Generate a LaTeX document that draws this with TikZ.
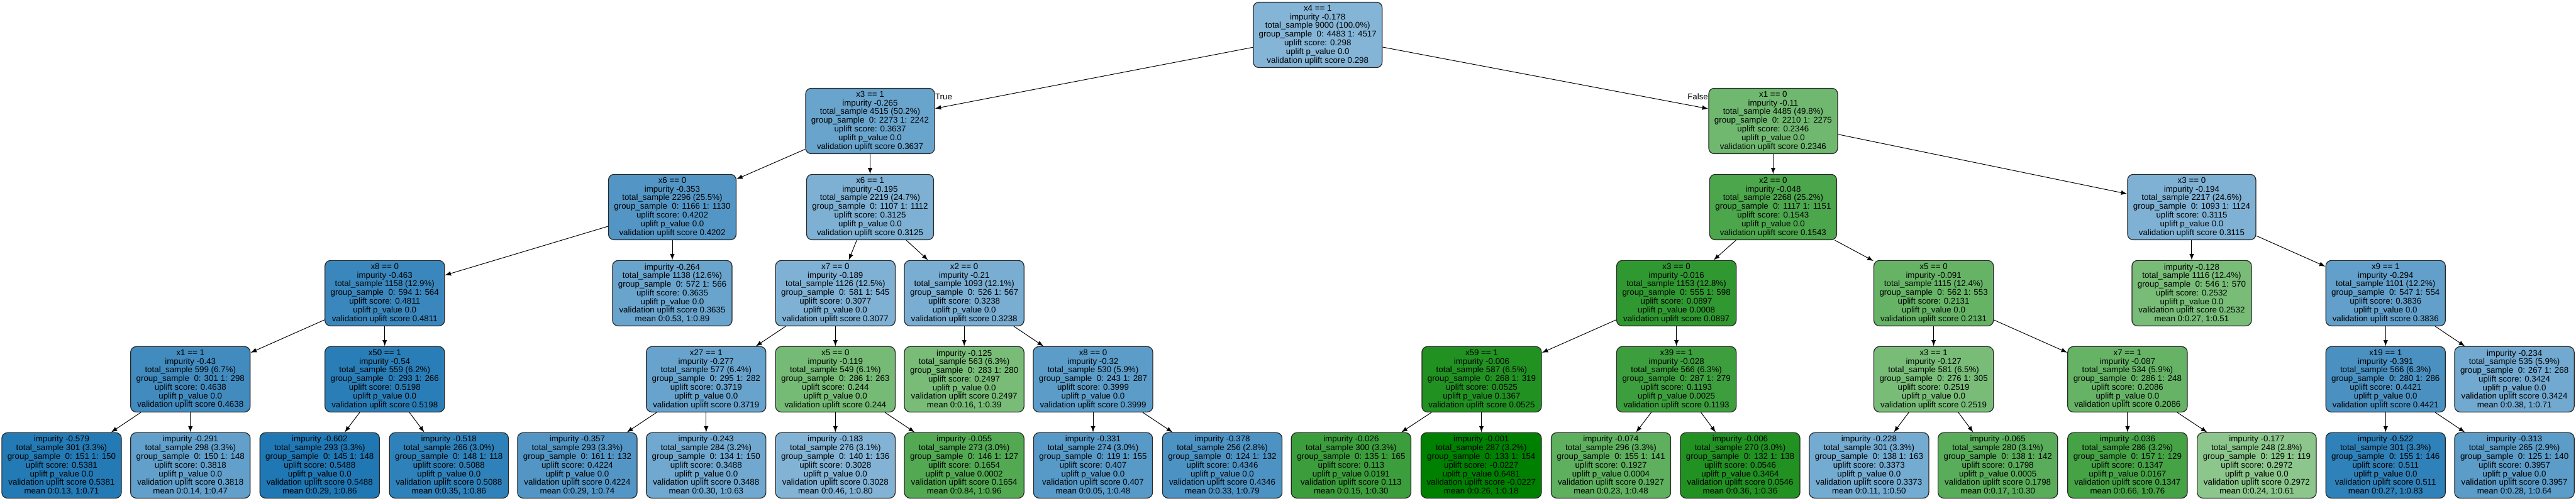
\documentclass[tikz,border=0pt]{standalone}
\usepackage{fontspec}
\setmainfont{Liberation Sans}
\definecolor{upblue}{HTML}{1F77B4}
\definecolor{upgreen}{HTML}{008000}

\begin{document}
\begin{tikzpicture}[
	tnode/.style={draw=black!85, line width=0.5pt, fill=#1, rounded corners=0.13cm, align=center,
		inner xsep=0.13cm, inner ysep=0.04cm, minimum width=2.69cm, minimum height=1.51cm,
		font=\fontsize{5.5pt}{5.69pt}\selectfont},
	elabel/.style={inner sep=0pt, yshift=0.2cm, font=\fontsize{5.5pt}{5.69pt}\selectfont}]
	\useasboundingbox (0,0) rectangle (59.39,-11.55);

	% depth 0 and 1
	\node[tnode=upblue!55] (root) at (30.38,-0.805) {x4 == 1\\impurity -0.178\\total\_sample 9000 (100.0\%)\\group\_sample\ \ 0: 4483 1: 4517\\uplift score: 0.298\\uplift p\_value 0.0\\validation uplift score 0.298};
	\node[tnode=upblue!67] (L) at (20.06,-2.791) {x3 == 1\\impurity -0.265\\total\_sample 4515 (50.2\%)\\group\_sample\ \ 0: 2273 1: 2242\\uplift score: 0.3637\\uplift p\_value 0.0\\validation uplift score 0.3637};
	\node[tnode=upgreen!56] (R) at (40.88,-2.791) {x1 == 0\\impurity -0.11\\total\_sample 4485 (49.8\%)\\group\_sample\ \ 0: 2210 1: 2275\\uplift score: 0.2346\\uplift p\_value 0.0\\validation uplift score 0.2346};

	% depth 2
	\node[tnode=upblue!77] (LL) at (15.50,-4.777) {x6 == 0\\impurity -0.353\\total\_sample 2296 (25.5\%)\\group\_sample\ \ 0: 1166 1: 1130\\uplift score: 0.4202\\uplift p\_value 0.0\\validation uplift score 0.4202};
	\node[tnode=upblue!58] (LR) at (20.06,-4.777) {x6 == 1\\impurity -0.195\\total\_sample 2219 (24.7\%)\\group\_sample\ \ 0: 1107 1: 1112\\uplift score: 0.3125\\uplift p\_value 0.0\\validation uplift score 0.3125};
	\node[tnode=upgreen!70] (RL) at (40.88,-4.777) {x2 == 0\\impurity -0.048\\total\_sample 2268 (25.2\%)\\group\_sample\ \ 0: 1117 1: 1151\\uplift score: 0.1543\\uplift p\_value 0.0\\validation uplift score 0.1543};
	\node[tnode=upblue!57] (RR) at (50.53,-4.777) {x3 == 0\\impurity -0.194\\total\_sample 2217 (24.6\%)\\group\_sample\ \ 0: 1093 1: 1124\\uplift score: 0.3115\\uplift p\_value 0.0\\validation uplift score 0.3115};

	% depth 3
	\node[tnode=upblue!88] (LLL) at (8.87,-6.763) {x8 == 0\\impurity -0.463\\total\_sample 1158 (12.9\%)\\group\_sample\ \ 0: 594 1: 564\\uplift score: 0.4811\\uplift p\_value 0.0\\validation uplift score 0.4811};
	\node[tnode=upblue!67] (LLR) at (15.50,-6.763) {impurity -0.264\\total\_sample 1138 (12.6\%)\\group\_sample\ \ 0: 572 1: 566\\uplift score: 0.3635\\uplift p\_value 0.0\\validation uplift score 0.3635\\mean 0:0.53, 1:0.89};
	\node[tnode=upblue!57] (LRL) at (19.26,-6.763) {x7 == 0\\impurity -0.189\\total\_sample 1126 (12.5\%)\\group\_sample\ \ 0: 581 1: 545\\uplift score: 0.3077\\uplift p\_value 0.0\\validation uplift score 0.3077};
	\node[tnode=upblue!60] (LRR) at (22.23,-6.763) {x2 == 0\\impurity -0.21\\total\_sample 1093 (12.1\%)\\group\_sample\ \ 0: 526 1: 567\\uplift score: 0.3238\\uplift p\_value 0.0\\validation uplift score 0.3238};
	\node[tnode=upgreen!81] (RLL) at (38.65,-6.763) {x3 == 0\\impurity -0.016\\total\_sample 1153 (12.8\%)\\group\_sample\ \ 0: 555 1: 598\\uplift score: 0.0897\\uplift p\_value 0.0008\\validation uplift score 0.0897};
	\node[tnode=upgreen!60] (RLR) at (44.58,-6.763) {x5 == 0\\impurity -0.091\\total\_sample 1115 (12.4\%)\\group\_sample\ \ 0: 562 1: 553\\uplift score: 0.2131\\uplift p\_value 0.0\\validation uplift score 0.2131};
	\node[tnode=upgreen!53] (RRL) at (50.53,-6.763) {impurity -0.128\\total\_sample 1116 (12.4\%)\\group\_sample\ \ 0: 546 1: 570\\uplift score: 0.2532\\uplift p\_value 0.0\\validation uplift score 0.2532\\mean 0:0.27, 1:0.51};
	\node[tnode=upblue!70] (RRR) at (55.00,-6.763) {x9 == 1\\impurity -0.294\\total\_sample 1101 (12.2\%)\\group\_sample\ \ 0: 547 1: 554\\uplift score: 0.3836\\uplift p\_value 0.0\\validation uplift score 0.3836};

	% depth 4
	\node[tnode=upblue!85] (LLLL) at (4.39,-8.749) {x1 == 1\\impurity -0.43\\total\_sample 599 (6.7\%)\\group\_sample\ \ 0: 301 1: 298\\uplift score: 0.4638\\uplift p\_value 0.0\\validation uplift score 0.4638};
	\node[tnode=upblue!95] (LLLR) at (8.87,-8.749) {x50 == 1\\impurity -0.54\\total\_sample 559 (6.2\%)\\group\_sample\ \ 0: 293 1: 266\\uplift score: 0.5198\\uplift p\_value 0.0\\validation uplift score 0.5198};
	\node[tnode=upblue!68] (LRLL) at (16.28,-8.749) {x27 == 1\\impurity -0.277\\total\_sample 577 (6.4\%)\\group\_sample\ \ 0: 295 1: 282\\uplift score: 0.3719\\uplift p\_value 0.0\\validation uplift score 0.3719};
	\node[tnode=upgreen!54] (LRLR) at (19.26,-8.749) {x5 == 0\\impurity -0.119\\total\_sample 549 (6.1\%)\\group\_sample\ \ 0: 286 1: 263\\uplift score: 0.244\\uplift p\_value 0.0\\validation uplift score 0.244};
	\node[tnode=upgreen!53] (LRRL) at (22.23,-8.749) {impurity -0.125\\total\_sample 563 (6.3\%)\\group\_sample\ \ 0: 283 1: 280\\uplift score: 0.2497\\uplift p\_value 0.0\\validation uplift score 0.2497\\mean 0:0.16, 1:0.39};
	\node[tnode=upblue!73] (LRRR) at (25.20,-8.749) {x8 == 0\\impurity -0.32\\total\_sample 530 (5.9\%)\\group\_sample\ \ 0: 243 1: 287\\uplift score: 0.3999\\uplift p\_value 0.0\\validation uplift score 0.3999};
	\node[tnode=upgreen!87] (RLLL) at (34.16,-8.749) {x59 == 1\\impurity -0.006\\total\_sample 587 (6.5\%)\\group\_sample\ \ 0: 268 1: 319\\uplift score: 0.0525\\uplift p\_value 0.1367\\validation uplift score 0.0525};
	\node[tnode=upgreen!76] (RLLR) at (38.65,-8.749) {x39 == 1\\impurity -0.028\\total\_sample 566 (6.3\%)\\group\_sample\ \ 0: 287 1: 279\\uplift score: 0.1193\\uplift p\_value 0.0025\\validation uplift score 0.1193};
	\node[tnode=upgreen!53] (RLRL) at (44.58,-8.749) {x3 == 1\\impurity -0.127\\total\_sample 581 (6.5\%)\\group\_sample\ \ 0: 276 1: 305\\uplift score: 0.2519\\uplift p\_value 0.0\\validation uplift score 0.2519};
	\node[tnode=upgreen!60] (RLRR) at (49.05,-8.749) {x7 == 1\\impurity -0.087\\total\_sample 534 (5.9\%)\\group\_sample\ \ 0: 286 1: 248\\uplift score: 0.2086\\uplift p\_value 0.0\\validation uplift score 0.2086};
	\node[tnode=upblue!81] (RRRL) at (55.00,-8.749) {x19 == 1\\impurity -0.391\\total\_sample 566 (6.3\%)\\group\_sample\ \ 0: 280 1: 286\\uplift score: 0.4421\\uplift p\_value 0.0\\validation uplift score 0.4421};
	\node[tnode=upblue!63] (RRRR) at (57.97,-8.749) {impurity -0.234\\total\_sample 535 (5.9\%)\\group\_sample\ \ 0: 267 1: 268\\uplift score: 0.3424\\uplift p\_value 0.0\\validation uplift score 0.3424\\mean 0:0.38, 1:0.71};

	% depth 5, leaves
	\node[tnode=upblue!98] (LLLLL) at (1.42,-10.735) {impurity -0.579\\total\_sample 301 (3.3\%)\\group\_sample\ \ 0: 151 1: 150\\uplift score: 0.5381\\uplift p\_value 0.0\\validation uplift score 0.5381\\mean 0:0.13, 1:0.71};
	\node[tnode=upblue!70] (LLLLR) at (4.39,-10.735) {impurity -0.291\\total\_sample 298 (3.3\%)\\group\_sample\ \ 0: 150 1: 148\\uplift score: 0.3818\\uplift p\_value 0.0\\validation uplift score 0.3818\\mean 0:0.14, 1:0.47};
	\node[tnode=upblue!100] (LLLRL) at (7.37,-10.735) {impurity -0.602\\total\_sample 293 (3.3\%)\\group\_sample\ \ 0: 145 1: 148\\uplift score: 0.5488\\uplift p\_value 0.0\\validation uplift score 0.5488\\mean 0:0.29, 1:0.86};
	\node[tnode=upblue!93] (LLLRR) at (10.35,-10.735) {impurity -0.518\\total\_sample 266 (3.0\%)\\group\_sample\ \ 0: 148 1: 118\\uplift score: 0.5088\\uplift p\_value 0.0\\validation uplift score 0.5088\\mean 0:0.35, 1:0.86};
	\node[tnode=upblue!77] (LRLLL) at (13.31,-10.735) {impurity -0.357\\total\_sample 293 (3.3\%)\\group\_sample\ \ 0: 161 1: 132\\uplift score: 0.4224\\uplift p\_value 0.0\\validation uplift score 0.4224\\mean 0:0.29, 1:0.74};
	\node[tnode=upblue!64] (LRLLR) at (16.28,-10.735) {impurity -0.243\\total\_sample 284 (3.2\%)\\group\_sample\ \ 0: 134 1: 150\\uplift score: 0.3488\\uplift p\_value 0.0\\validation uplift score 0.3488\\mean 0:0.30, 1:0.63};
	\node[tnode=upblue!56] (LRLRL) at (19.26,-10.735) {impurity -0.183\\total\_sample 276 (3.1\%)\\group\_sample\ \ 0: 140 1: 136\\uplift score: 0.3028\\uplift p\_value 0.0\\validation uplift score 0.3028\\mean 0:0.46, 1:0.80};
	\node[tnode=upgreen!68] (LRLRR) at (22.23,-10.735) {impurity -0.055\\total\_sample 273 (3.0\%)\\group\_sample\ \ 0: 146 1: 127\\uplift score: 0.1654\\uplift p\_value 0.0002\\validation uplift score 0.1654\\mean 0:0.84, 1:0.96};
	\node[tnode=upblue!75] (LRRRL) at (25.20,-10.735) {impurity -0.331\\total\_sample 274 (3.0\%)\\group\_sample\ \ 0: 119 1: 155\\uplift score: 0.407\\uplift p\_value 0.0\\validation uplift score 0.407\\mean 0:0.05, 1:0.48};
	\node[tnode=upblue!80] (LRRRR) at (28.18,-10.735) {impurity -0.378\\total\_sample 256 (2.8\%)\\group\_sample\ \ 0: 124 1: 132\\uplift score: 0.4346\\uplift p\_value 0.0\\validation uplift score 0.4346\\mean 0:0.33, 1:0.79};
	\node[tnode=upgreen!77] (RLLLL) at (31.15,-10.735) {impurity -0.026\\total\_sample 300 (3.3\%)\\group\_sample\ \ 0: 135 1: 165\\uplift score: 0.113\\uplift p\_value 0.0191\\validation uplift score 0.113\\mean 0:0.15, 1:0.30};
	\node[tnode=upgreen!100] (RLLLR) at (34.15,-10.735) {impurity -0.001\\total\_sample 287 (3.2\%)\\group\_sample\ \ 0: 133 1: 154\\uplift score: -0.0227\\uplift p\_value 0.6481\\validation uplift score -0.0227\\mean 0:0.26, 1:0.18};
	\node[tnode=upgreen!63] (RLLRL) at (37.14,-10.735) {impurity -0.074\\total\_sample 296 (3.3\%)\\group\_sample\ \ 0: 155 1: 141\\uplift score: 0.1927\\uplift p\_value 0.0004\\validation uplift score 0.1927\\mean 0:0.23, 1:0.48};
	\node[tnode=upgreen!87] (RLLRR) at (40.12,-10.735) {impurity -0.006\\total\_sample 270 (3.0\%)\\group\_sample\ \ 0: 132 1: 138\\uplift score: 0.0546\\uplift p\_value 0.3464\\validation uplift score 0.0546\\mean 0:0.36, 1:0.36};
	\node[tnode=upblue!62] (RLRLL) at (43.09,-10.735) {impurity -0.228\\total\_sample 301 (3.3\%)\\group\_sample\ \ 0: 138 1: 163\\uplift score: 0.3373\\uplift p\_value 0.0\\validation uplift score 0.3373\\mean 0:0.11, 1:0.50};
	\node[tnode=upgreen!65] (RLRLR) at (46.06,-10.735) {impurity -0.065\\total\_sample 280 (3.1\%)\\group\_sample\ \ 0: 138 1: 142\\uplift score: 0.1798\\uplift p\_value 0.0005\\validation uplift score 0.1798\\mean 0:0.17, 1:0.30};
	\node[tnode=upgreen!73] (RLRRL) at (49.05,-10.735) {impurity -0.036\\total\_sample 286 (3.2\%)\\group\_sample\ \ 0: 157 1: 129\\uplift score: 0.1347\\uplift p\_value 0.0167\\validation uplift score 0.1347\\mean 0:0.66, 1:0.76};
	\node[tnode=upgreen!45] (RLRRR) at (52.03,-10.735) {impurity -0.177\\total\_sample 248 (2.8\%)\\group\_sample\ \ 0: 129 1: 119\\uplift score: 0.2972\\uplift p\_value 0.0\\validation uplift score 0.2972\\mean 0:0.24, 1:0.61};
	\node[tnode=upblue!93] (RRRLL) at (55.00,-10.735) {impurity -0.522\\total\_sample 301 (3.3\%)\\group\_sample\ \ 0: 155 1: 146\\uplift score: 0.511\\uplift p\_value 0.0\\validation uplift score 0.511\\mean 0:0.27, 1:0.83};
	\node[tnode=upblue!73] (RRRLR) at (57.97,-10.735) {impurity -0.313\\total\_sample 265 (2.9\%)\\group\_sample\ \ 0: 125 1: 140\\uplift score: 0.3957\\uplift p\_value 0.0\\validation uplift score 0.3957\\mean 0:0.28, 1:0.64};

	% edges
	\draw[-latex] (root) -- (L) node[pos=1, anchor=south west, elabel] {True};
	\draw[-latex] (root) -- (R) node[pos=1, anchor=south east, elabel] {False};
	\foreach \a/\b in {L/LL, L/LR, R/RL, R/RR, LL/LLL, LL/LLR, LR/LRL, LR/LRR, RL/RLL, RL/RLR, RR/RRL, RR/RRR,
		LLL/LLLL, LLL/LLLR, LRL/LRLL, LRL/LRLR, LRR/LRRL, LRR/LRRR, RLL/RLLL, RLL/RLLR, RLR/RLRL, RLR/RLRR,
		RRR/RRRL, RRR/RRRR, LLLL/LLLLL, LLLL/LLLLR, LLLR/LLLRL, LLLR/LLLRR, LRLL/LRLLL, LRLL/LRLLR,
		LRLR/LRLRL, LRLR/LRLRR, LRRR/LRRRL, LRRR/LRRRR, RLLL/RLLLL, RLLL/RLLLR, RLLR/RLLRL, RLLR/RLLRR,
		RLRL/RLRLL, RLRL/RLRLR, RLRR/RLRRL, RLRR/RLRRR, RRRL/RRRLL, RRRL/RRRLR}
		\draw[-latex] (\a) -- (\b);
\end{tikzpicture}
\end{document}
